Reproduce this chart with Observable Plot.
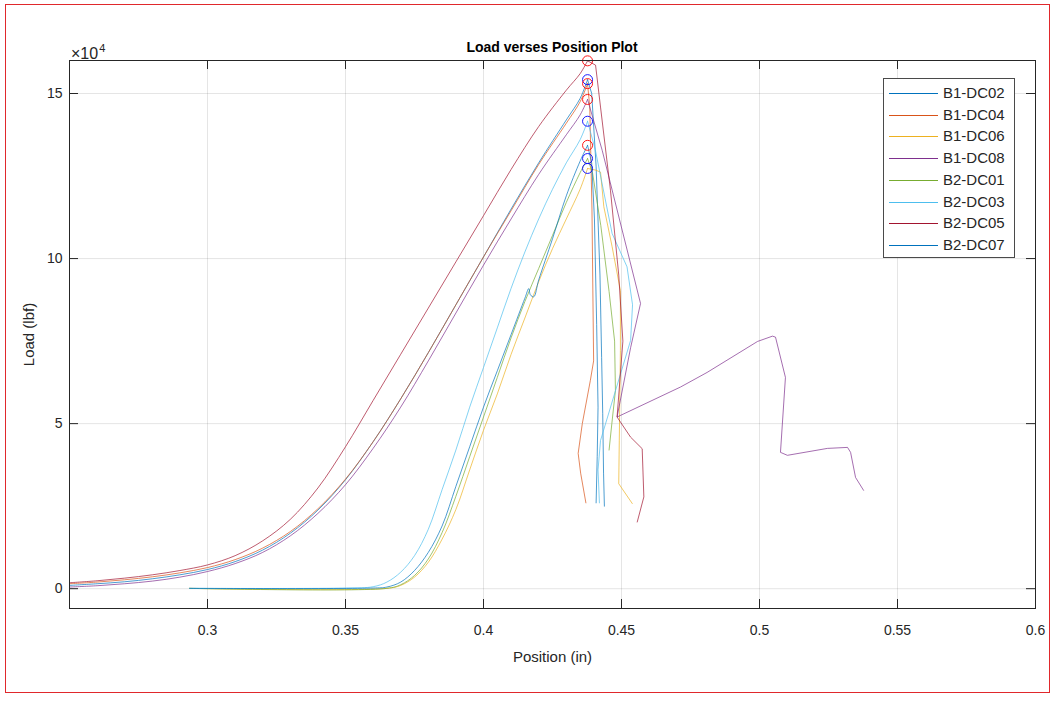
<!DOCTYPE html>
<html>
<head>
<meta charset="utf-8">
<script src="https://cdn.jsdelivr.net/npm/d3@7"></script>
<script src="https://cdn.jsdelivr.net/npm/@observablehq/plot@0.6"></script>
<style>
  html, body { margin: 0; padding: 0; background: #fff; }
  body { font-family: "Liberation Sans", Arial, Helvetica, sans-serif; }
  #wrap { position: relative; width: 1055px; height: 701px; overflow: hidden; }
  #border { position: absolute; left: 5px; top: 4px; width: 1045px; height: 689px; box-sizing: border-box; border: 1px solid #e0282c; pointer-events: none; }
  #title { position: absolute; left: 69px; width: 966px; top: 39px; text-align: center; font-weight: bold; font-size: 14px; color: #000; line-height: 16px; }
  #expo { position: absolute; left: 71px; top: 40px; font-size: 16px; color: #262626; line-height: 18px; white-space: nowrap; }
  #expo sup { font-size: 11px; position: relative; top: -1px; margin-left: 1px; }
  #legend { position: absolute; left: 883px; top: 78px; width: 132px; height: 180px; box-sizing: border-box; border: 1px solid #4a4a4a; background: #fff; }
  #legend .row { position: absolute; left: 0; height: 20px; width: 130px; }
  #legend .row svg { position: absolute; left: 4px; top: 0; }
  #legend .row span { position: absolute; left: 59px; top: 2px; font-size: 15px; color: #262626; line-height: 16px; white-space: nowrap; }
  #chart { position: absolute; left: 0; top: 0; }
</style>
</head>
<body>
<div id="wrap">
  <div id="chart"></div>
  <div id="title">Load verses Position Plot</div>
  <div id="expo">×10<sup>4</sup></div>
  <div id="legend"></div>
  <div id="border"></div>
</div>
<script>
// ---------- DATA (position in inches, load in units of 10^4 lbf) ----------
const seriesNames = ["B1-DC02", "B1-DC04", "B1-DC06", "B1-DC08", "B2-DC01", "B2-DC03", "B2-DC05", "B2-DC07"];
const seriesColors = ["#0072BD", "#D95319", "#EDB120", "#7E2F8E", "#77AC30", "#4DBEEE", "#A2142F", "#0072BD"];

const xTicks = [0.3, 0.35, 0.4, 0.45, 0.5, 0.55, 0.6];
const yTicks = [0, 5, 10, 15];

// B1-DC02
const b1dc02X = [0.25,0.26,0.27,0.28,0.29,0.30,0.31,0.32,0.33,0.34,0.35,0.36,0.37,0.38,0.39,0.40,0.41,0.42,0.43,0.435,0.4377,
                 0.4392,0.4408,0.4422,0.4428,0.4432,0.4435,0.4438];
const b1dc02Y = [0.10,0.15,0.21,0.30,0.42,0.58,0.82,1.17,1.68,2.38,3.3,4.45,5.75,7.15,8.6,10.05,11.5,12.9,14.2,14.85,15.42,
                 15.0,12.8,9.5,7.0,5.3,3.5,2.5];
// B1-DC04
const b1dc04X = [0.25,0.26,0.27,0.28,0.29,0.30,0.31,0.32,0.33,0.34,0.35,0.36,0.37,0.38,0.39,0.40,0.41,0.42,0.43,0.435,0.4377,
                 0.4385,0.4393,0.4399,0.4387,0.4358,0.4343,0.4352,0.4371];
const b1dc04Y = [0.15,0.20,0.27,0.36,0.48,0.64,0.88,1.23,1.73,2.42,3.32,4.45,5.75,7.15,8.6,10.05,11.45,12.85,14.1,14.75,15.30,
                 14.6,11.5,6.9,6.3,5.0,4.1,3.5,2.6];
// B1-DC06
const b1dc06X = [0.2935,0.365,0.37,0.375,0.38,0.385,0.39,0.395,0.40,0.405,0.41,0.415,0.42,0.425,0.43,0.435,0.4377,
                 0.4406,0.4424,0.4436,0.4466,0.4496,0.4496,0.4492,0.4490,0.4539];
const b1dc06Y = [0.01,0.01,0.1,0.35,0.8,1.5,2.4,3.6,4.8,5.9,7.1,8.2,9.3,10.3,11.2,12.1,12.73,
                 12.68,12.62,11.57,10.36,9.03,7.22,4.5,3.18,2.58];
// B1-DC08
const b1dc08X = [0.25,0.26,0.27,0.28,0.29,0.30,0.31,0.32,0.33,0.34,0.35,0.36,0.37,0.38,0.39,0.40,0.41,0.42,0.43,0.435,0.4377,
                 0.4430,0.4569,0.4533,0.4484,0.4714,0.481,0.4993,0.5047,0.5058,0.5094,0.5076,0.5101,0.5246,0.5319,0.5330,0.5348,0.5377];
const b1dc08Y = [0.05,0.09,0.15,0.23,0.35,0.52,0.76,1.1,1.6,2.28,3.15,4.25,5.5,6.9,8.35,9.8,11.2,12.55,13.75,14.35,14.82,
                 13.28,8.64,7.3,5.2,6.11,6.55,7.49,7.65,7.62,6.40,4.13,4.04,4.25,4.28,4.13,3.37,2.98];
// B2-DC01
const b2dc01X = [0.2935,0.365,0.37,0.375,0.38,0.385,0.39,0.395,0.40,0.405,0.41,0.415,0.42,0.425,0.43,0.435,0.4377,
                 0.4395,0.4425,0.4455,0.4475,0.4478,0.4465,0.4455];
const b2dc01Y = [0.01,0.01,0.12,0.4,0.9,1.7,2.8,4.0,5.2,6.4,7.6,8.7,9.7,10.7,11.7,12.6,13.03,
                 12.6,11.0,9.0,7.5,6.0,5.0,4.2];
// B2-DC03
const b2dc03X = [0.2935,0.35,0.36,0.365,0.37,0.375,0.38,0.385,0.39,0.395,0.40,0.405,0.41,0.415,0.42,0.425,0.43,0.435,0.4377,
                 0.4405,0.4466,0.4520,0.4540,0.4533,0.4424,0.4415,0.4420];
const b2dc03Y = [0.01,0.02,0.06,0.2,0.5,1.0,1.8,3.0,4.2,5.5,6.7,7.9,9.1,10.2,11.2,12.1,12.9,13.6,14.16,
                 13.3,10.76,9.75,8.6,7.52,4.49,3.6,2.6];
// B2-DC05
const b2dc05X = [0.25,0.26,0.27,0.28,0.29,0.30,0.31,0.32,0.33,0.34,0.35,0.36,0.37,0.38,0.39,0.40,0.41,0.42,0.43,0.435,0.4377,
                 0.4406,0.4424,0.4460,0.449,0.4505,0.4484,0.4533,0.4575,0.4581,0.4557];
const b2dc05Y = [0.18,0.24,0.32,0.42,0.55,0.72,1.0,1.45,2.1,3.05,4.3,5.7,7.1,8.5,9.9,11.3,12.7,14.0,15.1,15.6,15.99,
                 15.86,14.59,12.07,9.5,7.5,5.2,4.59,4.24,2.78,2.02];
// B2-DC07
const b2dc07X = [0.2935,0.36,0.365,0.37,0.375,0.38,0.385,0.39,0.395,0.40,0.405,0.41,0.415,0.4164,0.4170,0.4182,0.42,0.425,0.43,0.435,0.4377,
                 0.4392,0.4402,0.4410,0.4415,0.4412,0.4408];
const b2dc07Y = [0.01,0.02,0.05,0.2,0.55,1.1,1.9,3.1,4.3,5.5,6.6,7.7,8.8,9.09,8.9,8.84,9.35,10.6,11.9,12.95,13.43,
                 12.9,11.2,8.0,5.5,4.0,2.6];

const seriesX = [b1dc02X, b1dc04X, b1dc06X, b1dc08X, b2dc01X, b2dc03X, b2dc05X, b2dc07X];
const seriesY = [b1dc02Y, b1dc04Y, b1dc06Y, b1dc08Y, b2dc01Y, b2dc03Y, b2dc05Y, b2dc07Y];

// peak markers (circles)
const peakPosition = [0.4377, 0.4377, 0.4377, 0.4377, 0.4377, 0.4377, 0.4377, 0.4377];
const peakLoad = [15.99, 15.42, 15.30, 14.82, 14.16, 13.43, 13.03, 12.73];
const peakMarker = ["red", "blue", "red", "red", "blue", "red", "blue", "blue"];
const markerColors = {red: "#FF0000", blue: "#0000FF"};

// ---------- BUILD ----------
const peakX = 0.4377;
const riseRows = [], postRows = [];
seriesNames.forEach((name, i) => {
  const xs = seriesX[i], ys = seriesY[i];
  const p = xs.indexOf(peakX);
  xs.forEach((x, j) => {
    const r = {series: name, x, y: ys[j]};
    if (j <= p) riseRows.push(r);
    if (j >= p) postRows.push(r);
  });
});
const peaks = peakLoad.map((y, i) => ({x: peakPosition[i], y, m: peakMarker[i]}));

const W = 1055, H = 701, mL = 69, mR = 20, mT = 60, mB = 93;
const innerW = W - mL - mR, innerH = H - mT - mB;
const tickLen = 9;
const axisColor = "#262626";
const lw = 0.7;

const chart = Plot.plot({
  width: W, height: H,
  marginLeft: mL, marginRight: mR, marginTop: mT, marginBottom: mB,
  style: {fontFamily: "'Liberation Sans', Arial, Helvetica, sans-serif", fontSize: "14px", color: axisColor, background: "transparent", overflow: "visible"},
  x: {domain: [0.25, 0.6]},
  y: {domain: [-0.6, 16.0]},
  color: {domain: seriesNames, range: seriesColors},
  marks: [
    Plot.gridX(xTicks, {stroke: axisColor, strokeOpacity: 0.12}),
    Plot.gridY(yTicks, {stroke: axisColor, strokeOpacity: 0.12}),
    Plot.line(riseRows, {x: "x", y: "y", z: "series", stroke: "series", strokeWidth: lw, curve: "catmull-rom"}),
    Plot.line(postRows, {x: "x", y: "y", z: "series", stroke: "series", strokeWidth: lw, curve: "linear"}),
    Plot.dot(peaks, {x: "x", y: "y", r: 5, fill: "none", stroke: d => markerColors[d.m], strokeWidth: 0.9}),
    Plot.tickX(xTicks, {x: d => d, insetTop: innerH - tickLen, stroke: axisColor}),
    Plot.tickX(xTicks, {x: d => d, insetBottom: innerH - tickLen, stroke: axisColor}),
    Plot.tickY(yTicks, {y: d => d, insetRight: innerW - tickLen, stroke: axisColor}),
    Plot.tickY(yTicks, {y: d => d, insetLeft: innerW - tickLen, stroke: axisColor}),
    Plot.frame({stroke: axisColor, strokeWidth: 1}),
    Plot.axisX(xTicks, {tickSize: 0, tickPadding: 17, tickFormat: d => String(d), label: null, fontSize: 14, fill: axisColor}),
    Plot.axisX([], {tickSize: 0, label: "Position (in)", labelAnchor: "center", labelArrow: "none", labelOffset: 53, fontSize: 15, fill: axisColor}),
    Plot.axisY(yTicks, {tickSize: 0, tickPadding: 7, tickFormat: d => String(d), label: null, fontSize: 14, fill: axisColor}),
    Plot.axisY([], {tickSize: 0, label: "Load (lbf)", labelAnchor: "center", labelArrow: "none", labelOffset: 46, fontSize: 15, fill: axisColor})
  ]
});
document.getElementById("chart").appendChild(chart);

// legend
const legend = d3.select("#legend");
seriesNames.forEach((name, i) => {
  const row = legend.append("div").attr("class", "row").style("top", (4 + i * 21.7) + "px");
  const svg = row.append("svg").attr("width", 52).attr("height", 20);
  svg.append("line").attr("x1", 1).attr("x2", 50).attr("y1", 10.5).attr("y2", 10.5)
    .attr("stroke", seriesColors[i]).attr("stroke-width", 1);
  row.append("span").text(name);
});
</script>
</body>
</html>
